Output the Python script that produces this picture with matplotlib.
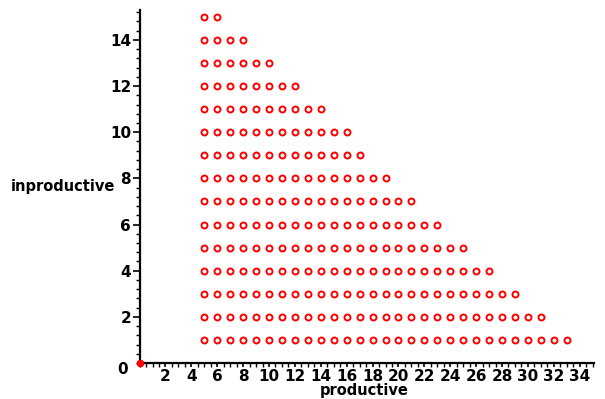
import matplotlib
matplotlib.use("Agg")
import matplotlib.pyplot as plt
from matplotlib.ticker import MultipleLocator

# data: for each inproductive value, range of productive values plotted
inproductive_vals = [1, 2, 3, 4, 5, 6, 7, 8, 9, 10, 11, 12, 13, 14, 15]
productive_min = [5, 5, 5, 5, 5, 5, 5, 5, 5, 5, 5, 5, 5, 5, 5]
productive_max = [33, 31, 29, 27, 25, 23, 21, 19, 17, 16, 14, 12, 10, 8, 6]
origin_point = (0, 0)
x_ticks = [2, 4, 6, 8, 10, 12, 14, 16, 18, 20, 22, 24, 26, 28, 30, 32, 34]
y_ticks = [2, 4, 6, 8, 10, 12, 14]

xs, ys = [], []
for yv, lo, hi in zip(inproductive_vals, productive_min, productive_max):
    for xv in range(lo, hi + 1):
        xs.append(xv)
        ys.append(yv)

fig = plt.figure(figsize=(6.05, 3.99), dpi=100)
ax = fig.add_axes([0.2307, 0.0902, 0.751, 0.885])
ax.set_xlim(0, 35.1)
ax.set_ylim(0, 15.3)

ax.plot(xs, ys, linestyle="none", marker="o", markersize=4.3,
        markerfacecolor="none", markeredgecolor="#ff0000", markeredgewidth=1.4,
        clip_on=False)
ax.plot([origin_point[0]], [origin_point[1]], linestyle="none", marker="o",
        markersize=4.5, color="#ff0000", clip_on=False, zorder=5)

for s in ("top", "right"):
    ax.spines[s].set_visible(False)
ax.spines["left"].set_linewidth(1.6)
ax.spines["bottom"].set_linewidth(1.6)

ax.set_xticks(x_ticks)
ax.set_yticks(y_ticks)
ax.xaxis.set_minor_locator(MultipleLocator(0.5))
ax.yaxis.set_minor_locator(MultipleLocator(0.4))
ax.tick_params(axis="both", which="major", direction="out", length=5, width=1.2,
               labelsize=11)
ax.tick_params(axis="x", which="major", length=3, pad=1)
ax.tick_params(axis="y", which="major", pad=1)
ax.tick_params(axis="both", which="minor", direction="out", length=3, width=1)
for lab in ax.get_xticklabels() + ax.get_yticklabels():
    lab.set_fontweight("bold")

fig.text(123 / 605, 1 - 370 / 399, "0", ha="center", va="center",
         fontsize=11, fontweight="bold")
fig.text(364 / 605, 1 - 391 / 399, "productive", ha="center", va="center",
         fontsize=10.5, fontweight="bold")
fig.text(63 / 605, 1 - 186 / 399, "inproductive", ha="center", va="center",
         fontsize=10.5, fontweight="bold")

fig.savefig("out.png", dpi=100)
